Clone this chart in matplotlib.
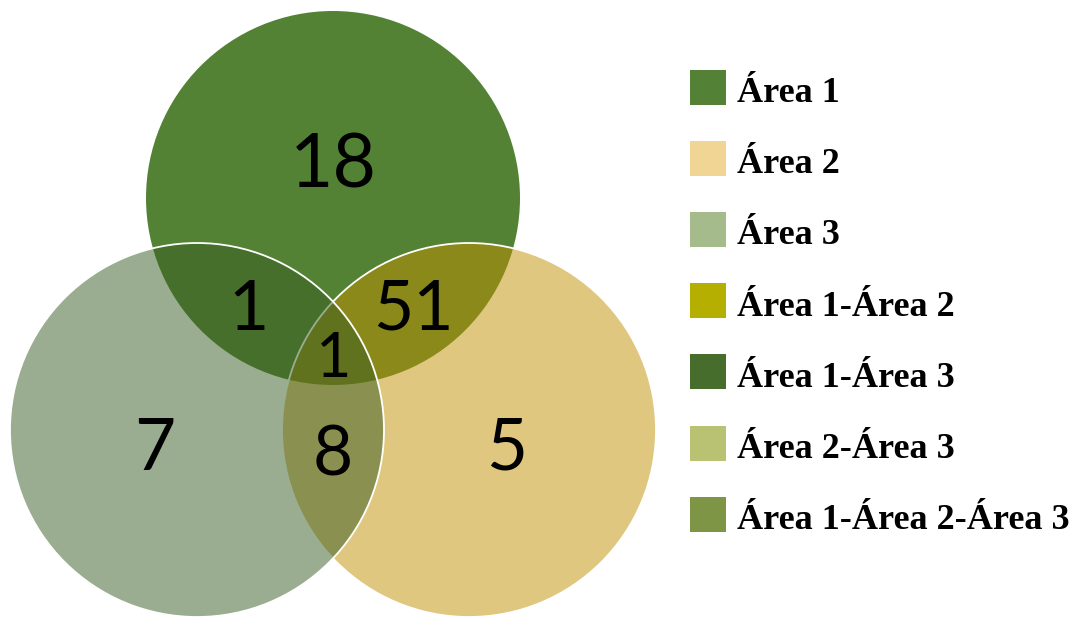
import matplotlib.pyplot as plt
from matplotlib.patches import Circle, Rectangle

# DATA
set_names = ['Área 1', 'Área 2', 'Área 3']
region_labels = ['Área 1', 'Área 2', 'Área 3', 'Área 1-Área 2',
                 'Área 1-Área 3', 'Área 2-Área 3', 'Área 1-Área 2-Área 3']
region_counts = [18, 5, 7, 51, 1, 8, 1]
legend_colors = ['#538135', '#F1D595', '#A6BB8C', '#B4AF00',
                 '#466D2B', '#B9C273', '#7E9546']

# circle fills (area 1 opaque, others half transparent on top)
circle_colors = [(84/255, 130/255, 53/255, 1.0),
                 (193/255, 145/255, 0/255, 0.5),
                 (55/255, 93/255, 35/255, 0.5)]
circle_edges = ['none', 'white', 'white']

# layout in pixels
centers = [(333, 198), (469, 430), (197, 430)]
radius = 187
label_pos = [(333, 187), (507, 470), (155, 470), (413, 330),
             (248, 330), (333, 475), (334, 377)]
label_size = [54, 51, 51, 50, 50, 50, 44]

fig = plt.figure(figsize=(10.81, 6.18), dpi=100)
ax = fig.add_axes([0, 0, 1, 1])
ax.set_xlim(0, 1081)
ax.set_ylim(618, 0)
ax.axis('off')

for (cx, cy), fc, ec in zip(centers, circle_colors, circle_edges):
    ax.add_patch(Circle((cx, cy), radius, facecolor=fc, edgecolor=ec,
                        linewidth=1.3))

for (x, y), n, fs in zip(label_pos, region_counts, label_size):
    ax.text(x, y, str(n), ha='center', va='baseline', fontsize=fs,
            family='Lato', color='black')

# LEGEND
y0, step = 87, 71.2
for i, (lab, col) in enumerate(zip(region_labels, legend_colors)):
    yc = y0 + i * step
    ax.add_patch(Rectangle((690, yc - 17.5), 36, 35, facecolor=col,
                           edgecolor='none'))
    ax.text(737, yc + 15, lab, ha='left', va='baseline', fontsize=26,
            family='Liberation Serif', fontweight='bold', color='black')

plt.savefig('out.png', dpi=100)
print("Saved: out.png")
